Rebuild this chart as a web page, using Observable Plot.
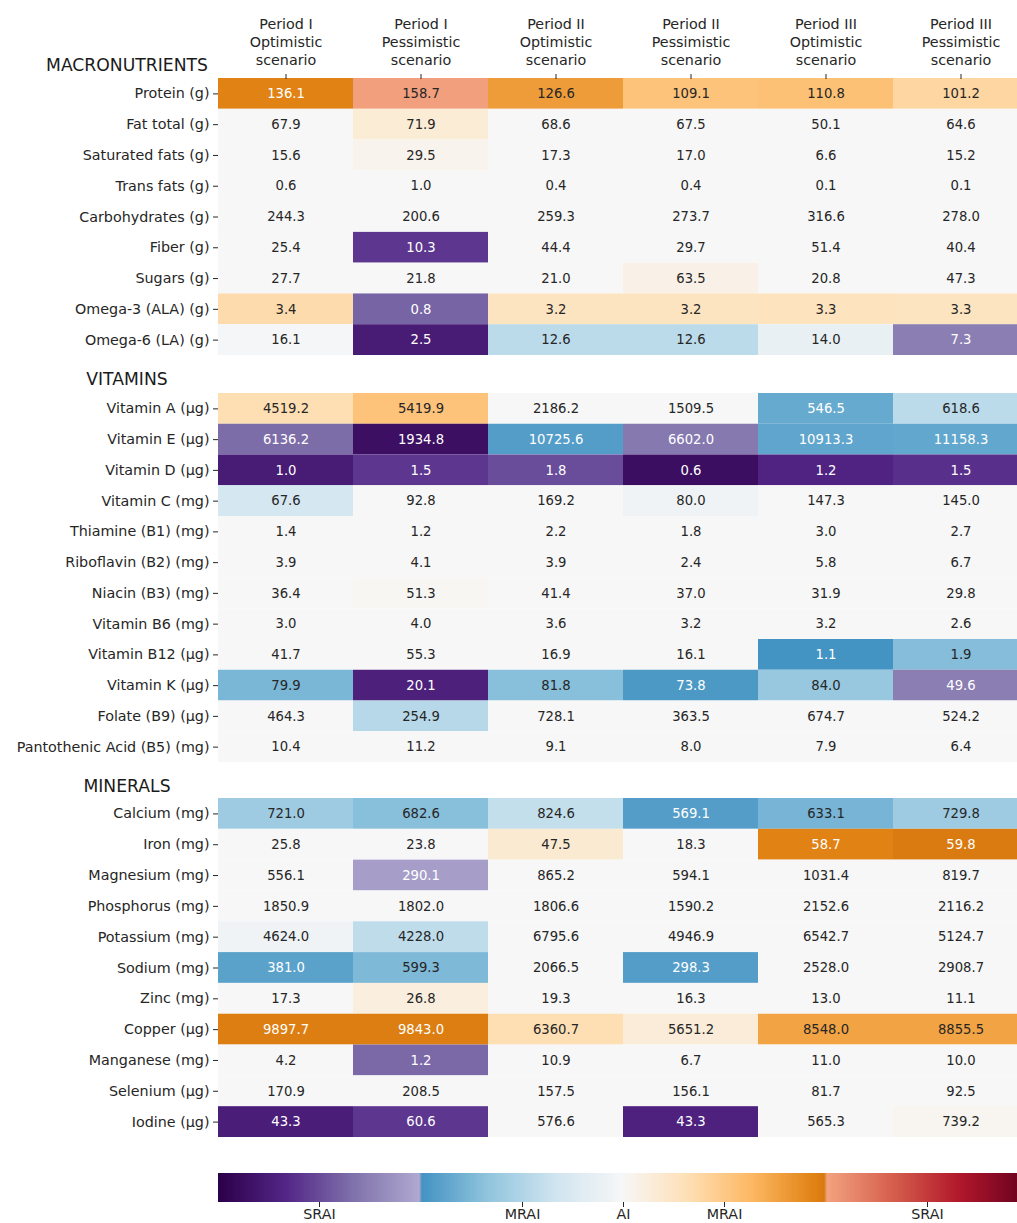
<!DOCTYPE html>
<html>
<head>
<meta charset="utf-8">
<script src="https://cdn.jsdelivr.net/npm/d3@7"></script>
<script src="https://cdn.jsdelivr.net/npm/@observablehq/plot@0.6"></script>
<style>
  html, body { margin: 0; padding: 0; background: white; overflow: hidden; }
  #wrap { position: relative; width: 1017px; overflow: hidden; }
  #wrap svg { display: block; max-width: none !important; }
  .sec { position: absolute; left: 0; width: 254px; text-align: center;
         font-family: "DejaVu Sans", sans-serif; font-size: 17.2px; line-height: 20px; color: #1a1a1a; }
</style>
</head>
<body>
<div id="wrap"></div>
<script>
// ---------- DATA ----------
const columns = [
  "Period I\nOptimistic\nscenario",
  "Period I\nPessimistic\nscenario",
  "Period II\nOptimistic\nscenario",
  "Period II\nPessimistic\nscenario",
  "Period III\nOptimistic\nscenario",
  "Period III\nPessimistic\nscenario"
];

const sectionTitles = ["MACRONUTRIENTS", "VITAMINS", "MINERALS"];

const macroRows = ["Protein (g)", "Fat total (g)", "Saturated fats (g)", "Trans fats (g)",
  "Carbohydrates (g)", "Fiber (g)", "Sugars (g)", "Omega-3 (ALA) (g)", "Omega-6 (LA) (g)"];
const macroValues = [
  [136.1, 158.7, 126.6, 109.1, 110.8, 101.2],
  [67.9, 71.9, 68.6, 67.5, 50.1, 64.6],
  [15.6, 29.5, 17.3, 17.0, 6.6, 15.2],
  [0.6, 1.0, 0.4, 0.4, 0.1, 0.1],
  [244.3, 200.6, 259.3, 273.7, 316.6, 278.0],
  [25.4, 10.3, 44.4, 29.7, 51.4, 40.4],
  [27.7, 21.8, 21.0, 63.5, 20.8, 47.3],
  [3.4, 0.8, 3.2, 3.2, 3.3, 3.3],
  [16.1, 2.5, 12.6, 12.6, 14.0, 7.3]
];
// adequacy score: -2..-1 SRAI (low), -1..0 MRAI (low), 0 AI, 0..1 MRAI (high), 1..2 SRAI (high)
const macroScores = [
  [0.95, 1.03, 0.8, 0.55, 0.57, 0.4],
  [0, 0.16, 0, 0, 0, 0],
  [0, 0.05, 0, 0, 0, 0],
  [0, 0, 0, 0, 0, 0],
  [0, 0, 0, 0, 0, 0],
  [0, -1.6, 0, 0, 0, 0],
  [0, 0, 0, 0.08, 0, 0],
  [0.36, -1.4, 0.27, 0.27, 0.28, 0.27],
  [-0.02, -1.77, -0.45, -0.45, -0.13, -1.27]
];

const vitaminRows = ["Vitamin A (µg)", "Vitamin E (µg)", "Vitamin D (µg)", "Vitamin C (mg)",
  "Thiamine (B1) (mg)", "Riboflavin (B2) (mg)", "Niacin (B3) (mg)", "Vitamin B6 (mg)",
  "Vitamin B12 (µg)", "Vitamin K (µg)", "Folate (B9) (µg)", "Pantothenic Acid (B5) (mg)"];
const vitaminValues = [
  [4519.2, 5419.9, 2186.2, 1509.5, 546.5, 618.6],
  [6136.2, 1934.8, 10725.6, 6602.0, 10913.3, 11158.3],
  [1.0, 1.5, 1.8, 0.6, 1.2, 1.5],
  [67.6, 92.8, 169.2, 80.0, 147.3, 145.0],
  [1.4, 1.2, 2.2, 1.8, 3.0, 2.7],
  [3.9, 4.1, 3.9, 2.4, 5.8, 6.7],
  [36.4, 51.3, 41.4, 37.0, 31.9, 29.8],
  [3.0, 4.0, 3.6, 3.2, 3.2, 2.6],
  [41.7, 55.3, 16.9, 16.1, 1.1, 1.9],
  [79.9, 20.1, 81.8, 73.8, 84.0, 49.6],
  [464.3, 254.9, 728.1, 363.5, 674.7, 524.2],
  [10.4, 11.2, 9.1, 8.0, 7.9, 6.4]
];
const vitaminScores = [
  [0.33, 0.55, 0, 0, -0.85, -0.45],
  [-1.36, -1.87, -0.93, -1.3, -0.88, -0.87],
  [-1.77, -1.6, -1.5, -1.88, -1.7, -1.63],
  [-0.3, 0, 0, -0.07, 0, 0],
  [0, 0, 0, 0, 0, 0],
  [0, 0, 0, 0, 0, 0],
  [0, 0.02, 0, 0, 0, 0],
  [0, 0, 0, 0, 0, 0],
  [0, 0, 0, 0, -1.0, -0.72],
  [-0.77, -1.73, -0.71, -0.96, -0.64, -1.27],
  [0, -0.47, 0, 0, 0, 0],
  [0, 0, 0, 0, 0, 0]
];

const mineralRows = ["Calcium (mg)", "Iron (mg)", "Magnesium (mg)", "Phosphorus (mg)",
  "Potassium (mg)", "Sodium (mg)", "Zinc (mg)", "Copper (µg)", "Manganese (mg)",
  "Selenium (µg)", "Iodine (µg)"];
const mineralValues = [
  [721.0, 682.6, 824.6, 569.1, 633.1, 729.8],
  [25.8, 23.8, 47.5, 18.3, 58.7, 59.8],
  [556.1, 290.1, 865.2, 594.1, 1031.4, 819.7],
  [1850.9, 1802.0, 1806.6, 1590.2, 2152.6, 2116.2],
  [4624.0, 4228.0, 6795.6, 4946.9, 6542.7, 5124.7],
  [381.0, 599.3, 2066.5, 298.3, 2528.0, 2908.7],
  [17.3, 26.8, 19.3, 16.3, 13.0, 11.1],
  [9897.7, 9843.0, 6360.7, 5651.2, 8548.0, 8855.5],
  [4.2, 1.2, 10.9, 6.7, 11.0, 10.0],
  [170.9, 208.5, 157.5, 156.1, 81.7, 92.5],
  [43.3, 60.6, 576.6, 43.3, 565.3, 739.2]
];
const mineralScores = [
  [-0.6, -0.71, -0.4, -0.93, -0.78, -0.6],
  [0, 0, 0.18, 0, 0.95, 0.99],
  [0, -1.08, 0, 0, 0, 0],
  [0, 0, 0, 0, 0, 0],
  [-0.07, -0.43, 0, 0, 0, 0],
  [-0.9, -0.75, 0, -0.93, 0, 0],
  [0, 0.12, 0, 0, 0, 0],
  [0.97, 0.97, 0.33, 0.15, 0.76, 0.76],
  [0, -1.38, 0, 0, 0, 0],
  [0, 0, 0, 0, 0, 0],
  [-1.75, -1.6, 0, -1.72, 0, 0.04]
];

const legendTicks = [-1.5, -0.5, 0, 0.5, 1.5];
const legendLabels = ["SRAI", "MRAI", "AI", "MRAI", "SRAI"];

// ---------- COLOUR ----------
const purpleSeg = d3.scaleLinear().domain([0, 1/3, 2/3, 1])
  .range(["#2d004b", "#542788", "#8073ac", "#b2abd2"]).clamp(true);
const blueSeg = d3.scaleLinear().domain([0, 1/3, 2/3, 1])
  .range(["#4393c3", "#92c5de", "#d1e5f0", "#f7f7f7"]).clamp(true);
const orangeSeg = d3.scaleLinear().domain([0, 0.32, 0.64, 0.95, 1])
  .range(["#f7f7f7", "#fee0b6", "#fdb863", "#e08214", "#d7790f"]).clamp(true);
const redSeg = d3.scaleLinear().domain([0, 1/3, 2/3, 1])
  .range(["#f4a582", "#d6604d", "#b2182b", "#67001f"]).clamp(true);
function interp(t) {
  const s = t * 4 - 2;
  if (s < -1) return purpleSeg(s + 2);
  if (s < 0) return blueSeg(s + 1);
  if (s <= 1) return orangeSeg(s);
  return redSeg(s - 1);
}
function lum(c) {
  const r = d3.rgb(c);
  const f = v => { v /= 255; return v <= 0.03928 ? v / 12.92 : Math.pow((v + 0.055) / 1.055, 2.4); };
  return 0.2126 * f(r.r) + 0.7152 * f(r.g) + 0.0722 * f(r.b);
}
const colorScale = {type: "linear", domain: [-2, 2], interpolate: interp};

const FONT = "DejaVu Sans";
const INK = "#262626";
const hasAxisMarks = typeof Plot.axisX === "function";

function heat(rows, values, scores, {height, marginTop, top}) {
  const data = [];
  rows.forEach((r, i) => columns.forEach((c, j) =>
    data.push({row: r, col: c, value: values[i][j], score: scores[i][j]})));
  const marks = [
    Plot.cell(data, {x: "col", y: "row", fill: "score", inset: 0}),
    Plot.text(data, {
      x: "col", y: "row",
      text: d => d.value.toFixed(1),
      fill: d => lum(interp((d.score + 2) / 4)) > 0.408 ? INK : "#ffffff",
      fontSize: 13.2
    })
  ];
  if (top && hasAxisMarks) {
    marks.push(Plot.axisX({anchor: "top", tickSize: 5, tickPadding: 9, lineHeight: 1.25,
      label: null, fontSize: 14.3}));
  }
  return Plot.plot({
    width: 1017,
    height,
    marginTop,
    marginBottom: 0,
    marginLeft: 218,
    marginRight: 0,
    style: {fontFamily: FONT, fontSize: "14.3px", color: INK, background: "white", overflow: "hidden"},
    x: {domain: columns, range: [218, 1028], padding: 0, round: false,
        axis: top ? (hasAxisMarks ? undefined : "top") : null,
        tickSize: 5, tickPadding: 9, label: null},
    y: {domain: rows, padding: 0, round: false, tickSize: 5, tickPadding: 4, label: null},
    color: colorScale,
    marks
  });
}

const wrap = document.getElementById("wrap");
wrap.appendChild(heat(macroRows, macroValues, macroScores, {height: 355, marginTop: 78, top: true}));
wrap.appendChild(heat(vitaminRows, vitaminValues, vitaminScores, {height: 407, marginTop: 38, top: false}));
wrap.appendChild(heat(mineralRows, mineralValues, mineralScores, {height: 375, marginTop: 36, top: false}));

const leg = Plot.legend({
  color: colorScale,
  width: 1017,
  height: 86,
  marginTop: 36,
  marginBottom: 21,
  marginLeft: 218,
  marginRight: -11,
  tickSize: 5,
  ticks: legendTicks,
  tickFormat: d => legendLabels[legendTicks.indexOf(d)],
  style: {fontFamily: FONT, fontSize: "14.3px", color: INK, background: "white", overflow: "hidden"}
});
const legSvg = leg.tagName.toLowerCase() === "svg" ? leg : leg.querySelector("svg");
d3.select(legSvg).selectAll(".tick line").attr("y1", 0).attr("y2", 5);
d3.select(legSvg).selectAll(".tick text").attr("font-size", "14.3px").attr("y", 7);
wrap.appendChild(leg);

// section titles
const titleY = [65, 379, 786];
sectionTitles.forEach((t, i) => {
  const d = document.createElement("div");
  d.className = "sec";
  d.textContent = t;
  d.style.top = (titleY[i] - 10) + "px";
  wrap.appendChild(d);
});
</script>
</body>
</html>
